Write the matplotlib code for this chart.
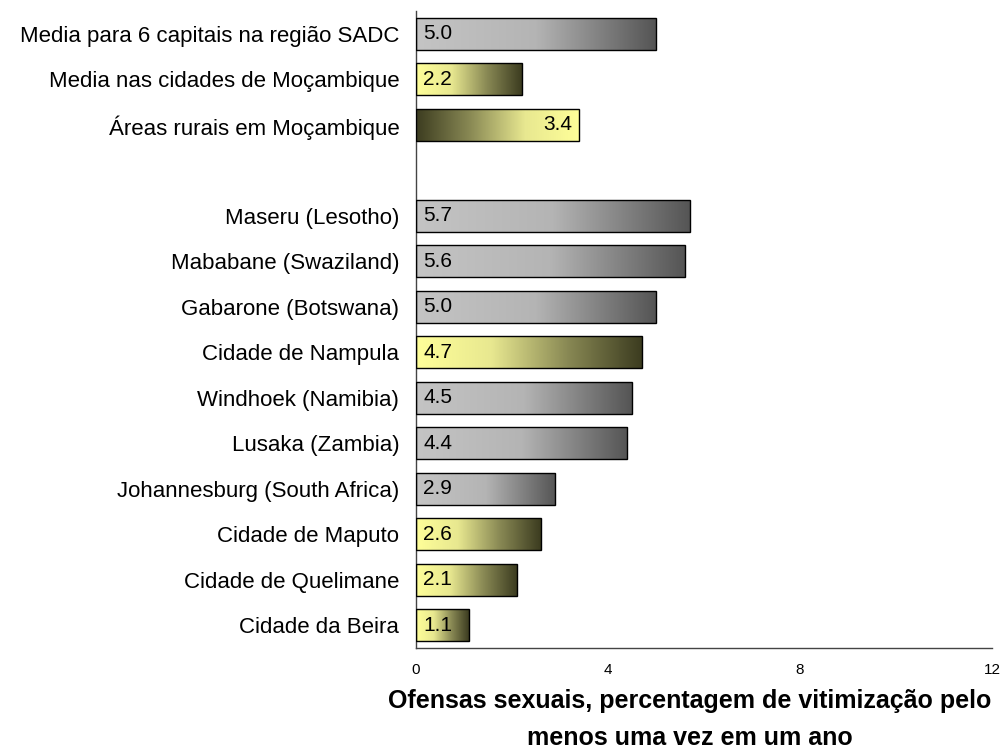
import numpy as np
import matplotlib.pyplot as plt
from matplotlib.colors import LinearSegmentedColormap

# Data, top to bottom (empty string = gap row)
categories = ['Media para 6 capitais na região SADC', 'Media nas cidades de Moçambique',
              'Áreas rurais em Moçambique', '',
              'Maseru (Lesotho)', 'Mababane (Swaziland)', 'Gabarone (Botswana)',
              'Cidade de Nampula', 'Windhoek (Namibia)', 'Lusaka (Zambia)',
              'Johannesburg (South Africa)', 'Cidade de Maputo', 'Cidade de Quelimane',
              'Cidade da Beira']
values = [5.0, 2.2, 3.4, None, 5.7, 5.6, 5.0, 4.7, 4.5, 4.4, 2.9, 2.6, 2.1, 1.1]
# bar style: g = grey, y = yellow, r = reversed yellow
styles = ['g', 'y', 'r', None, 'g', 'g', 'g', 'y', 'g', 'g', 'g', 'y', 'y', 'y']
xlabel_lines = ['Ofensas sexuais, percentagem de vitimização pelo',
                'menos uma vez em um ano']

grey = LinearSegmentedColormap.from_list('grey', ['#c4c4c4', '#b4b4b4', '#555555'])
yellow = LinearSegmentedColormap.from_list('yellow', ['#ffff99', '#e8e890', '#8a8a55', '#3c3c20'])
yellow_r = LinearSegmentedColormap.from_list('yellow_r', ['#3c3c20', '#8a8a55', '#e8e890', '#ffff99'])
cmaps = {'g': grey, 'y': yellow, 'r': yellow_r}

fig = plt.figure(figsize=(10.06, 7.48), dpi=100)
ax = fig.add_axes([0.4135, 0.1337, 0.5725, 0.8515])

n = len(categories)
ypos = np.arange(n)[::-1]
h = 0.7
grad = np.linspace(0, 1, 256).reshape(1, -1)

for y, v, s in zip(ypos, values, styles):
    if v is None:
        continue
    ax.imshow(grad, cmap=cmaps[s], aspect='auto', extent=(0, v, y - h / 2, y + h / 2),
              zorder=2, interpolation='bilinear')
    ax.add_patch(plt.Rectangle((0, y - h / 2), v, h, fill=False, edgecolor='black',
                               linewidth=1.0, zorder=3))
    if s == 'r':
        ax.text(v - 0.15, y, f'{v:.1f}', ha='right', va='center', fontsize=15,
                family='Liberation Sans', zorder=4)
    else:
        ax.text(0.15, y, f'{v:.1f}', ha='left', va='center', fontsize=15,
                family='Liberation Sans', zorder=4)

ax.set_xlim(0, 12)
ax.set_ylim(-0.5, n - 0.5)
ax.set_yticks(ypos)
ax.set_yticklabels(categories, fontsize=16, family='Liberation Sans')
ax.set_xticks([0, 4, 8, 12])
ax.set_xticklabels(['0', '4', '8', '12'], fontsize=11, family='Liberation Sans')
ax.tick_params(axis='both', length=0)
ax.tick_params(axis='y', pad=12)
ax.tick_params(axis='x', pad=11)
for side in ['top', 'right']:
    ax.spines[side].set_visible(False)
for side in ['left', 'bottom']:
    ax.spines[side].set_color('#444444')
    ax.spines[side].set_linewidth(1.0)

# two-line axis title under the ticks
for yl, line in zip([0.0535, 0.004], xlabel_lines):
    fig.text(0.686, yl, line, ha='center', va='baseline', fontsize=18,
             fontweight='bold', family='Liberation Sans')

fig.savefig('out.png', dpi=100)
